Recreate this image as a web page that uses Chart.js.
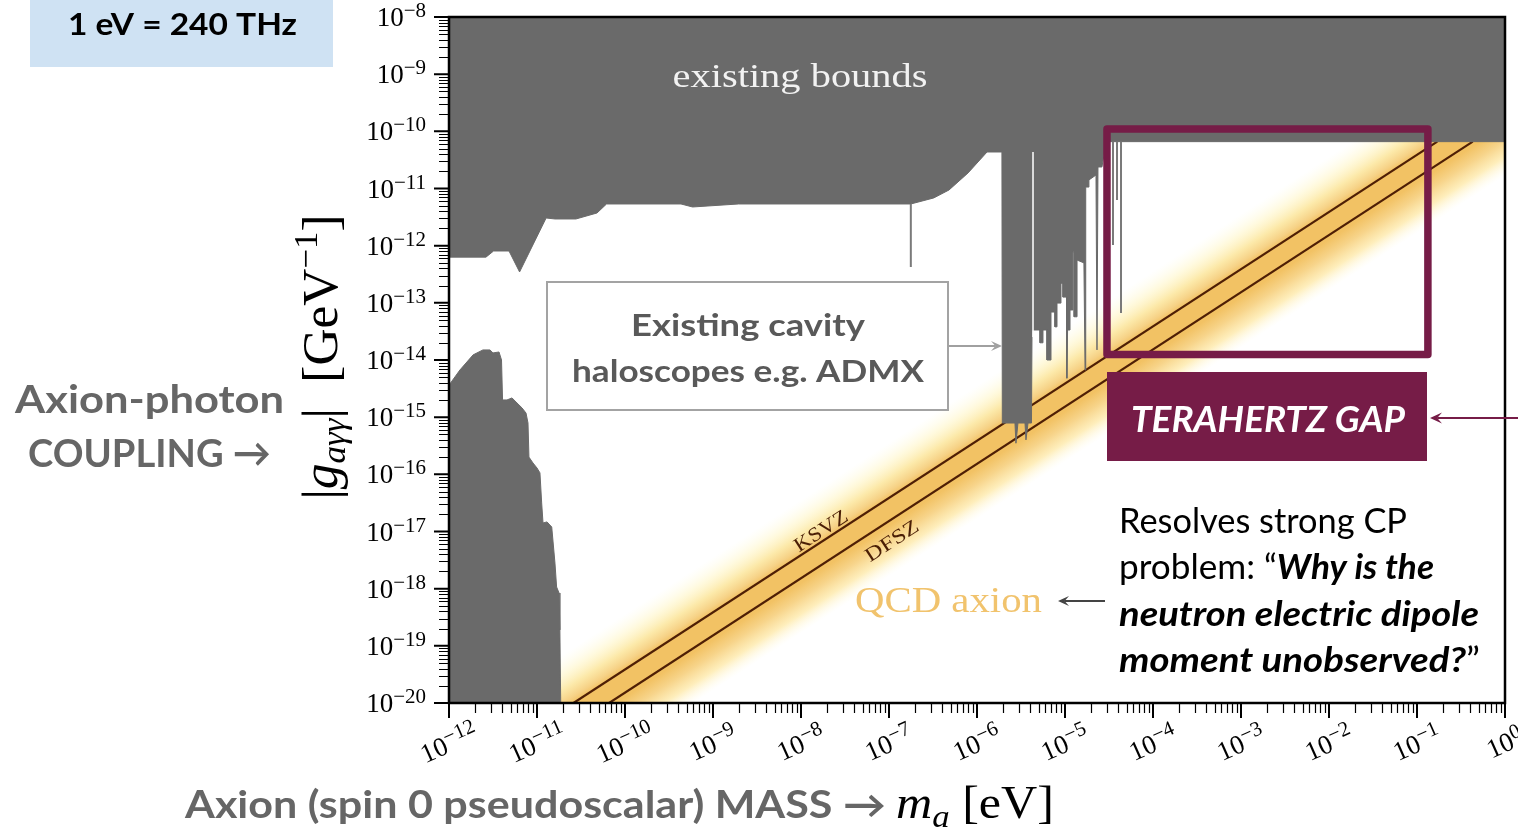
<!DOCTYPE html>
<html lang="en">
<head>
  <meta charset="UTF-8" />
  <title>Axion-photon coupling vs mass</title>
  <script src="https://cdn.jsdelivr.net/npm/chart.js"></script>
  <style>
    html, body { margin: 0; padding: 0; background: #ffffff; }
    canvas { display: block; }
  </style>
</head>
<body>
  <canvas id="axionChart" width="1518" height="832"></canvas>

  <script>
    // decades shown on the axes (tick labels are 10^exp)
    const xTickExps = [-12, -11, -10, -9, -8, -7, -6, -5, -4, -3, -2, -1, 0];
    const yTickExps = [-20, -19, -18, -17, -16, -15, -14, -13, -12, -11, -10, -9, -8];

    // existing bounds (grey, filled up to the top) : mass [eV], coupling [GeV^-1]
    const boundsMass = [1.0e-12, 2.63e-12, 3.21e-12, 4.81e-12, 6.34e-12, 1.27e-11, 1.60e-11, 2.77e-11, 4.81e-11, 6.17e-11,
      4.33e-10, 5.86e-10, 1.95e-9, 1.77e-7, 3.22e-7, 4.81e-7, 7.91e-7, 1.30e-6, 1.92e-6, 1.94e-6,
      2.70e-6, 2.77e-6, 2.92e-6, 3.51e-6, 3.60e-6, 3.80e-6, 4.16e-6, 4.22e-6, 5.20e-6, 5.20e-6,
      5.62e-6, 5.62e-6, 6.24e-6, 6.24e-6, 6.93e-6, 6.93e-6, 7.69e-6, 7.69e-6, 8.11e-6, 8.11e-6,
      9.00e-6, 9.00e-6, 9.49e-6, 9.49e-6, 1.04e-5, 1.05e-5, 1.07e-5, 1.14e-5, 1.14e-5, 1.23e-5,
      1.23e-5, 1.27e-5, 1.27e-5, 1.37e-5, 1.37e-5, 1.64e-5, 1.69e-5, 1.72e-5, 1.87e-5, 1.87e-5,
      2.25e-5, 2.31e-5, 2.37e-5, 2.63e-5, 2.77e-5, 2.85e-5, 1.0];
    const boundsCoupling = [6.3e-13, 6.3e-13, 8.07e-13, 8.07e-13, 3.47e-13, 3.05e-12, 2.93e-12, 2.93e-12, 3.73e-12, 5.36e-12,
      5.36e-12, 4.75e-12, 5.36e-12, 5.36e-12, 6.83e-12, 9.42e-12, 1.87e-11, 4.35e-11, 4.35e-11, 7.9e-16,
      7.9e-16, 3.5e-16, 7.9e-16, 7.9e-16, 4.0e-16, 7.9e-16, 7.9e-16, 3.35e-14, 3.35e-14, 2.0e-14,
      2.0e-14, 3.35e-14, 3.35e-14, 1.0e-14, 1.0e-14, 6.9e-14, 6.9e-14, 3.8e-14, 3.8e-14, 9.9e-14,
      9.9e-14, 2.2e-13, 2.2e-13, 1.26e-13, 1.26e-13, 4.8e-15, 3.35e-14, 3.35e-14, 7.5e-14, 7.5e-14,
      7.8e-13, 7.8e-13, 5.7e-14, 5.7e-14, 5.6e-13, 5.0e-13, 6.7e-15, 1.06e-11, 1.06e-11, 1.41e-11,
      1.72e-11, 1.5e-14, 2.38e-11, 2.38e-11, 3.86e-11, 6.6e-11, 6.6e-11];

    // low mass bound (grey, filled down to the bottom)
    const blobMass = [1.0e-12, 1.33e-12, 1.88e-12, 2.43e-12, 2.92e-12, 3.16e-12, 3.70e-12, 3.95e-12, 4.06e-12, 4.56e-12,
      5.2e-12, 5.93e-12, 6.76e-12, 7.5e-12, 7.9e-12, 8.1e-12, 9.0e-12, 1.0e-11, 1.08e-11, 1.13e-11,
      1.17e-11, 1.30e-11, 1.47e-11, 1.60e-11, 1.67e-11, 1.78e-11, 1.82e-11, 1.86e-11];
    const blobCoupling = [3.63e-15, 6.68e-15, 1.23e-14, 1.50e-14, 1.50e-14, 1.33e-14, 1.38e-14, 1.0e-14, 2.0e-15, 2.0e-15,
      2.17e-15, 1.77e-15, 1.45e-15, 1.18e-15, 7.9e-16, 2.0e-16, 1.58e-16, 1.29e-16, 1.06e-16, 3.16e-17,
      1.41e-17, 1.47e-17, 1.2e-17, 2.8e-18, 1.07e-18, 8.4e-19, 1.9e-19, 1.0e-20];

    // QCD axion model lines
    const ksvzMass = [2.6e-11, 0.17];
    const ksvzCoupling = [1.0e-20, 6.6e-11];
    const dfszMass = [6.6e-11, 0.43];
    const dfszCoupling = [1.0e-20, 6.6e-11];

    // edges of the yellow QCD band (same mass span on both edges)
    const bandMass = [1e-13, 10];
    const bandUpperCoupling = [3.6e-22, 3.6e-8];
    const bandLowerCoupling = [1.65e-24, 1.65e-10];

    // narrow exclusions (vertical lines)
    const spikeMass = [1.77e-7, 3.51e-5, 3.9e-5, 4.33e-5];
    const spikeTop = [5.36e-12, 6.6e-11, 6.6e-11, 6.6e-11];
    const spikeBottom = [4.24e-13, 1.03e-12, 6.3e-12, 6.64e-14];

    // white gap inside the haloscope bounds
    const gapLineMass = [4.33e-6, 4.33e-6];
    const gapLineCoupling = [4.35e-11, 2.53e-14];

    // terahertz gap window
    const thzMass = [3.0e-5, 0.133];
    const thzCoupling = [1.25e-14, 1.1e-10];

    const SANS = 'Lato, "Open Sans", "Noto Sans", sans-serif';
    const SERIF = '"Liberation Serif", "DejaVu Serif", serif';
    const GREY = '#6a6a6a';
    const WINE = '#761c47';

    const pts = (xs, ys) => xs.map((x, i) => ({ x: x, y: ys[i] }));

    // gradient across the QCD band, perpendicular to the band
    function bandGradient(context) {
      const chart = context.chart;
      const { ctx, chartArea, scales } = chart;
      if (!chartArea) return 'rgba(242,194,100,0.5)';
      const px = (m, g) => ({ x: scales.x.getPixelForValue(m), y: scales.y.getPixelForValue(g) });
      const u0 = px(bandMass[0], bandUpperCoupling[0]);
      const u1 = px(bandMass[1], bandUpperCoupling[1]);
      const len = Math.hypot(u1.x - u0.x, u1.y - u0.y);
      const nx = -(u1.y - u0.y) / len, ny = (u1.x - u0.x) / len;
      const off = p => (p.x - u0.x) * nx + (p.y - u0.y) * ny;
      const s = off(px(bandMass[0], bandLowerCoupling[0]));
      const tk = off(px(ksvzMass[0], ksvzCoupling[0])) / s;
      const td = off(px(dfszMass[0], dfszCoupling[0])) / s;
      const grad = ctx.createLinearGradient(u0.x, u0.y, u0.x + nx * s, u0.y + ny * s);
      grad.addColorStop(0, 'rgba(255,252,225,0)');
      grad.addColorStop(tk * 0.35, 'rgba(255,246,200,0.6)');
      grad.addColorStop(tk * 0.65, 'rgba(252,232,165,0.95)');
      grad.addColorStop(tk * 0.88, '#f6d185');
      grad.addColorStop(tk, '#f2c264');
      grad.addColorStop(td + (1 - td) * 0.08, '#f2c264');
      grad.addColorStop(td + (1 - td) * 0.35, '#f7d48a');
      grad.addColorStop(td + (1 - td) * 0.65, 'rgba(254,236,180,0.9)');
      grad.addColorStop(1, 'rgba(255,252,228,0)');
      return grad;
    }

    function drawRich(ctx, segs, x, y, align, fitWidth, color) {
      let total = 0;
      const ws = segs.map(s => {
        ctx.font = s.font;
        const w = ctx.measureText(s.text).width;
        total += w;
        return w;
      });
      const sx = fitWidth ? fitWidth / total : 1;
      const w = total * sx;
      const x0 = align === 'center' ? x - w / 2 : align === 'right' ? x - w : x;
      ctx.save();
      ctx.translate(x0, y);
      ctx.scale(sx, 1);
      ctx.textAlign = 'left';
      ctx.textBaseline = 'alphabetic';
      let cx = 0;
      segs.forEach((s, i) => {
        ctx.font = s.font;
        ctx.fillStyle = s.color || color || '#000';
        ctx.fillText(s.text, cx, s.dy || 0);
        cx += ws[i];
      });
      ctx.restore();
    }

    function drawArrow(ctx, x1, y1, x2, y2, color, width, head) {
      const a = Math.atan2(y2 - y1, x2 - x1);
      const c = Math.cos(a), s = Math.sin(a);
      ctx.save();
      ctx.strokeStyle = color;
      ctx.fillStyle = color;
      ctx.lineWidth = width;
      ctx.beginPath();
      ctx.moveTo(x1, y1);
      ctx.lineTo(x2 - c * head * 0.6, y2 - s * head * 0.6);
      ctx.stroke();
      ctx.beginPath();
      ctx.moveTo(x2, y2);
      ctx.lineTo(x2 - head * c + head * 0.45 * s, y2 - head * s - head * 0.45 * c);
      ctx.lineTo(x2 - head * 0.6 * c, y2 - head * 0.6 * s);
      ctx.lineTo(x2 - head * c - head * 0.45 * s, y2 - head * s + head * 0.45 * c);
      ctx.closePath();
      ctx.fill();
      ctx.restore();
    }

    const expText = e => (e < 0 ? '\u2212' : '') + Math.abs(e);

    // frame, log ticks, tick labels and all the annotation text
    const decorations = {
      id: 'decorations',
      beforeDraw(chart) {
        const ctx = chart.ctx;
        ctx.save();
        ctx.fillStyle = '#ffffff';
        ctx.fillRect(0, 0, chart.width, chart.height);
        ctx.restore();
      },
      afterDatasetsDraw(chart) {
        const { ctx, chartArea: a, scales } = chart;
        const xs = scales.x, ys = scales.y;
        ctx.save();
        ctx.strokeStyle = '#000';

        // minor ticks
        ctx.lineWidth = 1.2;
        ctx.beginPath();
        xTickExps.slice(0, -1).forEach(e => {
          for (let j = 2; j <= 9; j++) {
            const p = Math.round(xs.getPixelForValue(j * Math.pow(10, e))) + 0.5;
            ctx.moveTo(p, a.bottom); ctx.lineTo(p, a.bottom + 10);
          }
        });
        yTickExps.slice(0, -1).forEach(e => {
          for (let j = 2; j <= 9; j++) {
            const p = Math.round(ys.getPixelForValue(j * Math.pow(10, e))) + 0.5;
            ctx.moveTo(a.left, p); ctx.lineTo(a.left - 10, p);
          }
        });
        ctx.stroke();

        // major ticks
        ctx.lineWidth = 2;
        ctx.beginPath();
        xTickExps.forEach(e => {
          const p = xs.getPixelForValue(Math.pow(10, e));
          ctx.moveTo(p, a.bottom); ctx.lineTo(p, a.bottom + 15);
        });
        yTickExps.forEach(e => {
          const p = ys.getPixelForValue(Math.pow(10, e));
          ctx.moveTo(a.left, p); ctx.lineTo(a.left - 15, p);
        });
        ctx.stroke();

        // frame
        ctx.lineWidth = 2.5;
        ctx.strokeRect(a.left, a.top, a.right - a.left, a.bottom - a.top);
        ctx.restore();

        // tick labels
        ctx.save();
        yTickExps.forEach(e => {
          const p = ys.getPixelForValue(Math.pow(10, e));
          drawRich(ctx, [
            { text: '10', font: `27px ${SERIF}`, dy: 9 },
            { text: expText(e), font: `21px ${SERIF}`, dy: 0 }
          ], a.left - 23, p, 'right', null, '#000');
        });
        xTickExps.forEach(e => {
          const p = xs.getPixelForValue(Math.pow(10, e));
          ctx.save();
          ctx.translate(p, a.bottom + 40);
          ctx.rotate(-24 * Math.PI / 180);
          drawRich(ctx, [
            { text: '10', font: `27px ${SERIF}`, dy: 9 },
            { text: expText(e), font: `21px ${SERIF}`, dy: 0 }
          ], 0, 0, 'center', null, '#000');
          ctx.restore();
        });
        ctx.restore();
      },
      afterDraw(chart) {
        const { ctx, scales } = chart;
        const xs = scales.x, ys = scales.y;
        ctx.save();

        // conversion box
        ctx.fillStyle = '#cfe2f3';
        ctx.fillRect(30, 0, 303, 67);
        drawRich(ctx, [{ text: '1 eV = 240 THz', font: `bold 31px ${SANS}` }], 68, 35, 'left', 229, '#000');

        // in-plot labels
        drawRich(ctx, [{ text: 'existing bounds', font: `34px ${SERIF}` }], 800, 87, 'center', 255, '#f2f2f2');
        drawRich(ctx, [{ text: 'QCD axion', font: `36px ${SERIF}` }], 855, 612, 'left', 187, '#f1c36d');
        drawArrow(ctx, 1105, 601, 1058, 601, '#444444', 2, 11);

        // model labels along the lines
        const k0x = xs.getPixelForValue(ksvzMass[0]), k0y = ys.getPixelForValue(ksvzCoupling[0]);
        const k1x = xs.getPixelForValue(ksvzMass[1]), k1y = ys.getPixelForValue(ksvzCoupling[1]);
        const ang = Math.atan2(k1y - k0y, k1x - k0x);
        [['KSVZ', 821, 531], ['DFSZ', 892, 541]].forEach(([t, lx, ly]) => {
          ctx.save();
          ctx.translate(lx, ly);
          ctx.rotate(ang);
          drawRich(ctx, [{ text: t, font: `20px ${SERIF}` }], 0, 6, 'center', 60, '#4a1e05');
          ctx.restore();
        });

        // cavity haloscope callout
        ctx.fillStyle = '#ffffff';
        ctx.fillRect(547, 282, 401, 128);
        ctx.strokeStyle = '#a3a3a3';
        ctx.lineWidth = 2;
        ctx.strokeRect(547, 282, 401, 128);
        drawRich(ctx, [{ text: 'Existing cavity', font: `bold 31px ${SANS}` }], 748, 336, 'center', 234, '#595959');
        drawRich(ctx, [{ text: 'haloscopes e.g. ADMX', font: `bold 31px ${SANS}` }], 748, 382, 'center', 352, '#595959');
        drawArrow(ctx, 949, 346, 1002, 346, '#a0a0a0', 2, 11);

        // terahertz gap label
        ctx.fillStyle = WINE;
        ctx.fillRect(1107, 372, 320, 89);
        drawRich(ctx, [{ text: 'TERAHERTZ GAP', font: `italic bold 37px ${SANS}` }], 1131, 432, 'left', 274, '#ffffff');
        drawArrow(ctx, 1518, 418, 1430, 418, WINE, 2, 12);

        // strong CP text
        const reg = `34px ${SANS}`, bi = `italic bold 34px ${SANS}`;
        drawRich(ctx, [{ text: 'Resolves strong CP', font: reg }], 1119, 533, 'left', 288, '#000');
        drawRich(ctx, [{ text: 'problem: \u201C', font: reg }, { text: 'Why is the', font: bi }], 1119, 579, 'left', 315, '#000');
        drawRich(ctx, [{ text: 'neutron electric dipole', font: bi }], 1119, 626, 'left', 360, '#000');
        drawRich(ctx, [{ text: 'moment unobserved?', font: bi }, { text: '\u201D', font: reg }], 1119, 672, 'left', 361, '#000');

        // y axis titles
        drawRich(ctx, [{ text: 'Axion-photon', font: `bold 39px ${SANS}` }], 15, 413, 'left', 269, '#666666');
        drawRich(ctx, [{ text: 'COUPLING \u2192', font: `bold 39px ${SANS}` }], 28, 467, 'left', 243, '#666666');
        ctx.save();
        ctx.translate(337, 357);
        ctx.rotate(-Math.PI / 2);
        drawRich(ctx, [
          { text: '|', font: `50px ${SERIF}` },
          { text: 'g', font: `italic 50px ${SERIF}` },
          { text: 'a\u03B3\u03B3', font: `italic 34px ${SERIF}`, dy: 8 },
          { text: '|  [GeV', font: `50px ${SERIF}` },
          { text: '\u22121', font: `34px ${SERIF}`, dy: -20 },
          { text: ']', font: `50px ${SERIF}` }
        ], 0, 0, 'center', 285, '#000');
        ctx.restore();

        // x axis title
        drawRich(ctx, [{ text: 'Axion (spin 0 pseudoscalar) MASS \u2192', font: `bold 38px ${SANS}` }], 185, 818, 'left', 701, '#666666');
        drawRich(ctx, [
          { text: 'm', font: `italic 46px ${SERIF}` },
          { text: 'a', font: `italic 32px ${SERIF}`, dy: 9 },
          { text: ' [eV]', font: `46px ${SERIF}` }
        ], 896, 818, 'left', 158, '#000');

        ctx.restore();
      }
    };

    const line = (data, color, width, extra) => Object.assign({
      data: data,
      borderColor: color,
      borderWidth: width,
      pointRadius: 0,
      tension: 0,
      fill: false
    }, extra || {});

    const datasets = [
      // terahertz window
      line(pts([thzMass[0], thzMass[1], thzMass[1], thzMass[0], thzMass[0]],
               [thzCoupling[1], thzCoupling[1], thzCoupling[0], thzCoupling[0], thzCoupling[1]]),
           WINE, 7.5, { borderJoinStyle: 'round', borderCapStyle: 'round' }),
      // narrow exclusions
      ...spikeMass.map((m, i) => line(pts([m, m], [spikeTop[i], spikeBottom[i]]), '#7a7a7a', 2)),
      line(pts(gapLineMass, gapLineCoupling), '#ffffff', 1.5),
      // low mass bound
      line(pts(blobMass, blobCoupling), GREY, 1, { fill: 'start', backgroundColor: GREY }),
      // existing bounds
      line(pts(boundsMass, boundsCoupling), GREY, 1, { fill: 'end', backgroundColor: GREY }),
      // model lines
      line(pts(ksvzMass, ksvzCoupling), '#4f1f05', 2.2),
      line(pts(dfszMass, dfszCoupling), '#4f1f05', 2.2),
      // QCD band
      line(pts(bandMass, bandUpperCoupling), 'rgba(0,0,0,0)', 0, { fill: '+1', backgroundColor: bandGradient }),
      line(pts(bandMass, bandLowerCoupling), 'rgba(0,0,0,0)', 0)
    ];

    new Chart(document.getElementById('axionChart'), {
      type: 'line',
      data: { datasets: datasets },
      options: {
        responsive: false,
        animation: false,
        devicePixelRatio: 1,
        events: [],
        layout: { padding: { left: 449, right: 13, top: 17, bottom: 129 } },
        plugins: {
          legend: { display: false },
          tooltip: { enabled: false }
        },
        scales: {
          x: { type: 'logarithmic', min: 1e-12, max: 1, display: false },
          y: { type: 'logarithmic', min: 1e-20, max: 1e-8, display: false }
        }
      },
      plugins: [decorations]
    });
  </script>
</body>
</html>
